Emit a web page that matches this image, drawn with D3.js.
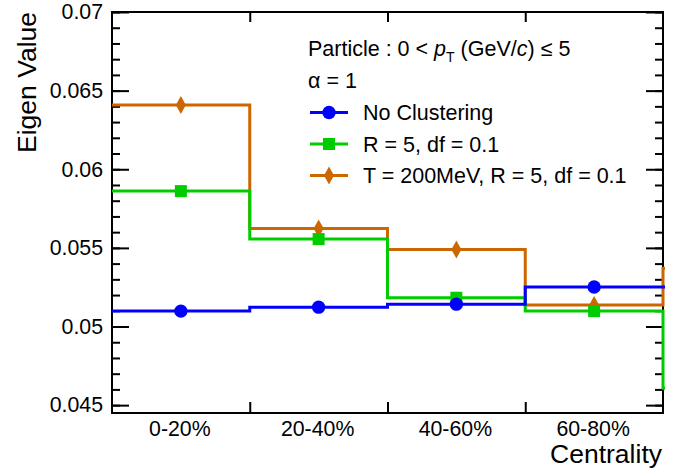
<!DOCTYPE html>
<html>
<head>
<meta charset="utf-8">
<script src="https://cdn.jsdelivr.net/npm/d3@7"></script>
<style>
  body { margin: 0; background: #fff; }
  text { font-family: "Liberation Sans", Arial, Helvetica, sans-serif; fill: #000; }
</style>
</head>
<body>
<div id="chart"></div>
<script>
// centrality bins (the 5th edge/value is the overflow bin, clipped by the frame)
var binEdges = [0, 20, 40, 60, 80, 100];
var binLabels = ["0-20%", "20-40%", "40-60%", "60-80%"];

var noClustering = [0.05098, 0.05123, 0.05142, 0.05251, 0.05251];
var r5df01      = [0.05861, 0.05556, 0.05183, 0.05098, 0.04608];
var t200r5df01  = [0.06408, 0.05624, 0.05490, 0.05136, 0.05371];

var seriesNames = ["No Clustering", "R = 5, df = 0.1", "T = 200MeV, R = 5, df = 0.1"];
var seriesColors = ["#0000ff", "#00cc00", "#cc6600"];
var seriesShapes = ["circle", "square", "diamond"];

var yMajor = [0.045, 0.05, 0.055, 0.06, 0.065, 0.07];
var yMinor = d3.range(45, 71).map(function(d){ return d / 1000; });

var width = 690, height = 476;
var frameL = 112, frameR = 663, frameT = 12, frameB = 413;

var svg = d3.select("#chart").append("svg")
  .attr("width", width)
  .attr("height", height);

var x = d3.scaleLinear().domain([0, 80]).range([frameL, frameR]);
var y = d3.scaleLinear().domain([0.0445, 0.07]).range([frameB, frameT]);

// ---- axes ----
function styleAxis(g){
  g.select(".domain").remove();
  g.selectAll(".tick line").attr("stroke", "#000").attr("stroke-width", 2);
  g.selectAll(".tick text").style("font-size", "21.3px").attr("fill", "#000");
}

svg.append("g").attr("transform", "translate(" + frameL + ",0)")
  .call(d3.axisLeft(y).tickValues(yMajor).tickSize(-17).tickPadding(9)
        .tickFormat(function(d){ return String(+d.toFixed(3)); }))
  .call(styleAxis);
svg.append("g").attr("transform", "translate(" + frameL + ",0)")
  .call(d3.axisLeft(y).tickValues(yMinor).tickSize(-8).tickFormat(""))
  .call(styleAxis);
svg.append("g").attr("transform", "translate(" + frameR + ",0)")
  .call(d3.axisRight(y).tickValues(yMajor).tickSize(-17).tickFormat(""))
  .call(styleAxis);
svg.append("g").attr("transform", "translate(" + frameR + ",0)")
  .call(d3.axisRight(y).tickValues(yMinor).tickSize(-8).tickFormat(""))
  .call(styleAxis);

svg.append("g").attr("transform", "translate(0," + frameB + ")")
  .call(d3.axisBottom(x).tickValues(binEdges.slice(1, 4)).tickSize(-11).tickFormat(""))
  .call(styleAxis);
svg.append("g").attr("transform", "translate(0," + frameT + ")")
  .call(d3.axisTop(x).tickValues(binEdges.slice(1, 4)).tickSize(-10).tickFormat(""))
  .call(styleAxis);

// bin labels
svg.selectAll(".binlabel").data(binLabels).enter().append("text")
  .attr("x", function(d, i){ return x((binEdges[i] + binEdges[i + 1]) / 2) - 1; })
  .attr("y", 436)
  .attr("text-anchor", "middle")
  .style("font-size", "21.3px")
  .text(function(d){ return d; });

// frame
svg.append("rect")
  .attr("x", frameL).attr("y", frameT)
  .attr("width", frameR - frameL).attr("height", frameB - frameT)
  .attr("fill", "none").attr("stroke", "#000").attr("stroke-width", 2);

// axis titles
svg.append("text")
  .attr("transform", "translate(36," + frameT + ") rotate(-90)")
  .attr("text-anchor", "end")
  .style("font-size", "26.5px")
  .text("Eigen Value");
svg.append("text")
  .attr("x", frameR - 1).attr("y", 463)
  .attr("text-anchor", "end")
  .style("font-size", "26.5px")
  .text("Centrality");

// ---- histograms ----
svg.append("clipPath").attr("id", "frameclip")
  .append("rect").attr("x", frameL).attr("y", frameT)
  .attr("width", frameR - frameL + 2).attr("height", frameB - frameT);

var allSeries = [noClustering, r5df01, t200r5df01];

var step = d3.line()
  .x(function(d){ return x(d[0]); })
  .y(function(d){ return y(d[1]); })
  .curve(d3.curveStepAfter);

function markerPath(shape){
  if (shape == "circle") return d3.symbol(d3.symbolCircle, 140)();
  if (shape == "square") return "M-6,-6H6V6H-6Z";
  return "M0,-9L5,0L0,9L-5,0Z";
}

// draw in reverse so blue ends on top like the picture
[2, 1, 0].forEach(function(k){
  var vals = allSeries[k];
  var pts = vals.map(function(v, i){ return [binEdges[i], v]; });
  pts.push([binEdges[5], vals[4]]);
  svg.append("path")
    .attr("d", step(pts))
    .attr("fill", "none")
    .attr("stroke", seriesColors[k])
    .attr("stroke-width", 3)
    .attr("clip-path", "url(#frameclip)");
});
[2, 1, 0].forEach(function(k){
  svg.selectAll(".m" + k).data(allSeries[k].slice(0, 4)).enter().append("path")
    .attr("d", markerPath(seriesShapes[k]))
    .attr("transform", function(d, i){
      return "translate(" + x((binEdges[i] + binEdges[i + 1]) / 2) + "," + y(d) + ")";
    })
    .attr("fill", seriesColors[k]);
});

// ---- legend ----
var hdr = svg.append("text").attr("x", 308).attr("y", 56).style("font-size", "21.5px");
hdr.append("tspan").text("Particle : 0 < ");
hdr.append("tspan").style("font-style", "italic").text("p");
hdr.append("tspan").attr("dy", 6).style("font-size", "14px").text("T");
hdr.append("tspan").attr("dy", -6).text(" (GeV/");
hdr.append("tspan").style("font-style", "italic").text("c");
hdr.append("tspan").text(") \u2264 5");

svg.append("text").attr("x", 308).attr("y", 88).style("font-size", "21.5px").text("\u03b1 = 1");

var legendY = [112.5, 144, 175.5];
seriesNames.forEach(function(name, k){
  var g = svg.append("g").attr("transform", "translate(0," + legendY[k] + ")");
  g.append("line").attr("x1", 310).attr("x2", 348)
    .attr("stroke", seriesColors[k]).attr("stroke-width", 3);
  g.append("path").attr("d", markerPath(seriesShapes[k]))
    .attr("transform", "translate(329,0)")
    .attr("fill", seriesColors[k]);
  g.append("text").attr("x", 363).attr("y", 7.5)
    .style("font-size", "21.5px").text(name);
});
</script>
</body>
</html>
